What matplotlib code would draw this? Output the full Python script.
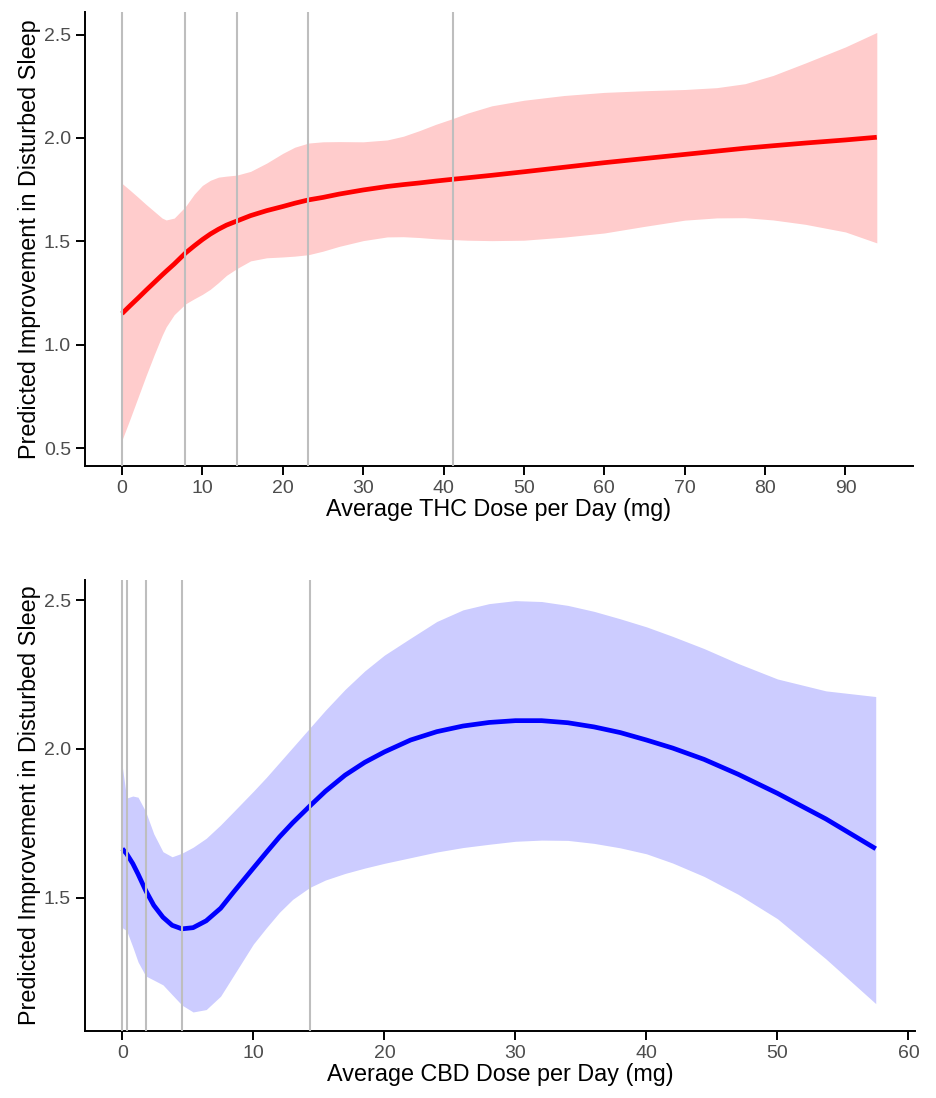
"""Predicted improvement in disturbed sleep vs average THC / CBD dose per day.

Two stacked panels: spline fit with confidence ribbon, grey vertical
lines at the dose quantiles. Values read off the published figure.
"""
import numpy as np
import matplotlib
matplotlib.use("Agg")
import matplotlib.pyplot as plt

plt.rcParams["font.family"] = ["Liberation Sans", "DejaVu Sans"]

# ---- THC panel -------------------------------------------------------
THC_DOSE = [0, 1, 2, 3, 4, 5, 5.5, 6.5, 7.9, 9, 10, 11, 12, 13, 14.3, 16, 18,
            20, 21.5, 23.2, 25, 27, 30, 33, 35, 37, 39, 41.2, 43, 46, 50, 55,
            60, 65, 70, 74, 77.5, 81, 85, 90, 93.9]
THC_FIT = [1.15, 1.188, 1.225, 1.263, 1.30, 1.337, 1.355, 1.39, 1.443, 1.478,
           1.508, 1.535, 1.558, 1.578, 1.598, 1.624, 1.648, 1.668, 1.684, 1.70,
           1.712, 1.728, 1.748, 1.765, 1.774, 1.782, 1.791, 1.80, 1.807, 1.819,
           1.836, 1.858, 1.88, 1.90, 1.92, 1.936, 1.95, 1.962, 1.975, 1.99, 2.003]
THC_HI = [1.78, 1.747, 1.713, 1.678, 1.645, 1.612, 1.603, 1.612, 1.668, 1.728,
          1.77, 1.795, 1.81, 1.815, 1.82, 1.838, 1.878, 1.925, 1.955, 1.975,
          1.981, 1.982, 1.981, 1.99, 2.008, 2.035, 2.065, 2.094, 2.12, 2.155,
          2.182, 2.205, 2.22, 2.228, 2.234, 2.243, 2.262, 2.302, 2.362, 2.44,
          2.51]
THC_LO = [0.538, 0.64, 0.745, 0.85, 0.95, 1.045, 1.086, 1.145, 1.197, 1.222,
          1.243, 1.268, 1.30, 1.335, 1.368, 1.405, 1.42, 1.424, 1.428, 1.435,
          1.452, 1.475, 1.503, 1.521, 1.522, 1.518, 1.512, 1.508, 1.505, 1.503,
          1.505, 1.52, 1.54, 1.572, 1.602, 1.613, 1.614, 1.603, 1.582, 1.545,
          1.492]
THC_QUANTILES = [0, 7.9, 14.3, 23.2, 41.2]

# ---- CBD panel -------------------------------------------------------
CBD_DOSE = [0, 0.33, 0.8, 1.2, 1.78, 2.4, 3.1, 3.8, 4.55, 5.4, 6.4, 7.5, 8.5,
            10, 11, 12, 13, 14.3, 15.5, 17, 18.5, 20, 22, 24, 26, 28, 30, 32,
            34, 36, 38, 40, 42, 44.4, 47, 50, 53.7, 57.5]
CBD_FIT = [1.665, 1.648, 1.615, 1.58, 1.525, 1.475, 1.435, 1.408, 1.396, 1.40,
           1.423, 1.465, 1.52, 1.60, 1.653, 1.705, 1.752, 1.808, 1.858, 1.912,
           1.955, 1.99, 2.03, 2.058, 2.077, 2.089, 2.095, 2.095, 2.088, 2.074,
           2.055, 2.03, 2.003, 1.965, 1.915, 1.851, 1.765, 1.665]
CBD_HI = [1.94, 1.835, 1.842, 1.838, 1.79, 1.715, 1.655, 1.638, 1.65, 1.67,
          1.70, 1.745, 1.79, 1.858, 1.905, 1.955, 2.005, 2.07, 2.13, 2.2, 2.262,
          2.315, 2.372, 2.428, 2.467, 2.488, 2.498, 2.495, 2.482, 2.462, 2.437,
          2.41, 2.378, 2.337, 2.287, 2.235, 2.195, 2.176]
CBD_LO = [1.40, 1.39, 1.335, 1.285, 1.238, 1.224, 1.208, 1.175, 1.14, 1.117,
          1.125, 1.17, 1.24, 1.345, 1.40, 1.452, 1.495, 1.535, 1.56, 1.582,
          1.60, 1.616, 1.635, 1.654, 1.669, 1.68, 1.69, 1.694, 1.693, 1.683,
          1.668, 1.648, 1.617, 1.572, 1.512, 1.43, 1.295, 1.145]
CBD_QUANTILES = [0, 0.33, 1.78, 4.55, 14.3]

YLABEL = "Predicted Improvement in Disturbed Sleep"
TICK_GREY = "#4D4D4D"
QUANT_GREY = "#BEBEBE"


def draw_panel(ax, dose, fit, lo, hi, quantiles, line_c, fill_c, xlabel,
               xlim, ylim, xticks, yticks):
    ax.fill_between(dose, lo, hi, color=fill_c, linewidth=0, zorder=1)
    ax.plot(dose, fit, color=line_c, lw=3.4, solid_capstyle="butt",
            solid_joinstyle="round", zorder=2)
    for q in quantiles:
        ax.axvline(q, color=QUANT_GREY, lw=1.5, zorder=3)

    ax.set_xlim(*xlim)
    ax.set_ylim(*ylim)
    ax.set_xticks(xticks)
    ax.set_yticks(yticks)
    ax.set_yticklabels([f"{v:.1f}" for v in yticks])
    for side in ("top", "right"):
        ax.spines[side].set_visible(False)
    for side in ("left", "bottom"):
        ax.spines[side].set_linewidth(1.4)
        ax.spines[side].set_color("black")
    ax.tick_params(axis="both", length=6.5, width=1.4, color="black",
                   labelsize=14, labelcolor=TICK_GREY, pad=3.5)
    ax.set_xlabel(xlabel, fontsize=16.8, labelpad=1)
    ax.set_ylabel(YLABEL, fontsize=16.8, labelpad=2)


fig = plt.figure(figsize=(9.36, 10.98), dpi=100)
ax_thc = fig.add_axes([0.0908, 0.5756, 0.8846, 0.4135])
ax_cbd = fig.add_axes([0.0908, 0.0610, 0.8868, 0.4107])

draw_panel(ax_thc, THC_DOSE, THC_FIT, THC_LO, THC_HI, THC_QUANTILES,
           "#FF0000", "#FFCCCC", "Average THC Dose per Day (mg)",
           (-4.6, 98.4), (0.413, 2.609), np.arange(0, 91, 10),
           [0.5, 1.0, 1.5, 2.0, 2.5])
draw_panel(ax_cbd, CBD_DOSE, CBD_FIT, CBD_LO, CBD_HI, CBD_QUANTILES,
           "#0000FF", "#CCCCFF", "Average CBD Dose per Day (mg)",
           (-2.85, 60.5), (1.053, 2.567), np.arange(0, 61, 10),
           [1.5, 2.0, 2.5])

fig.savefig("out.png", dpi=100)
